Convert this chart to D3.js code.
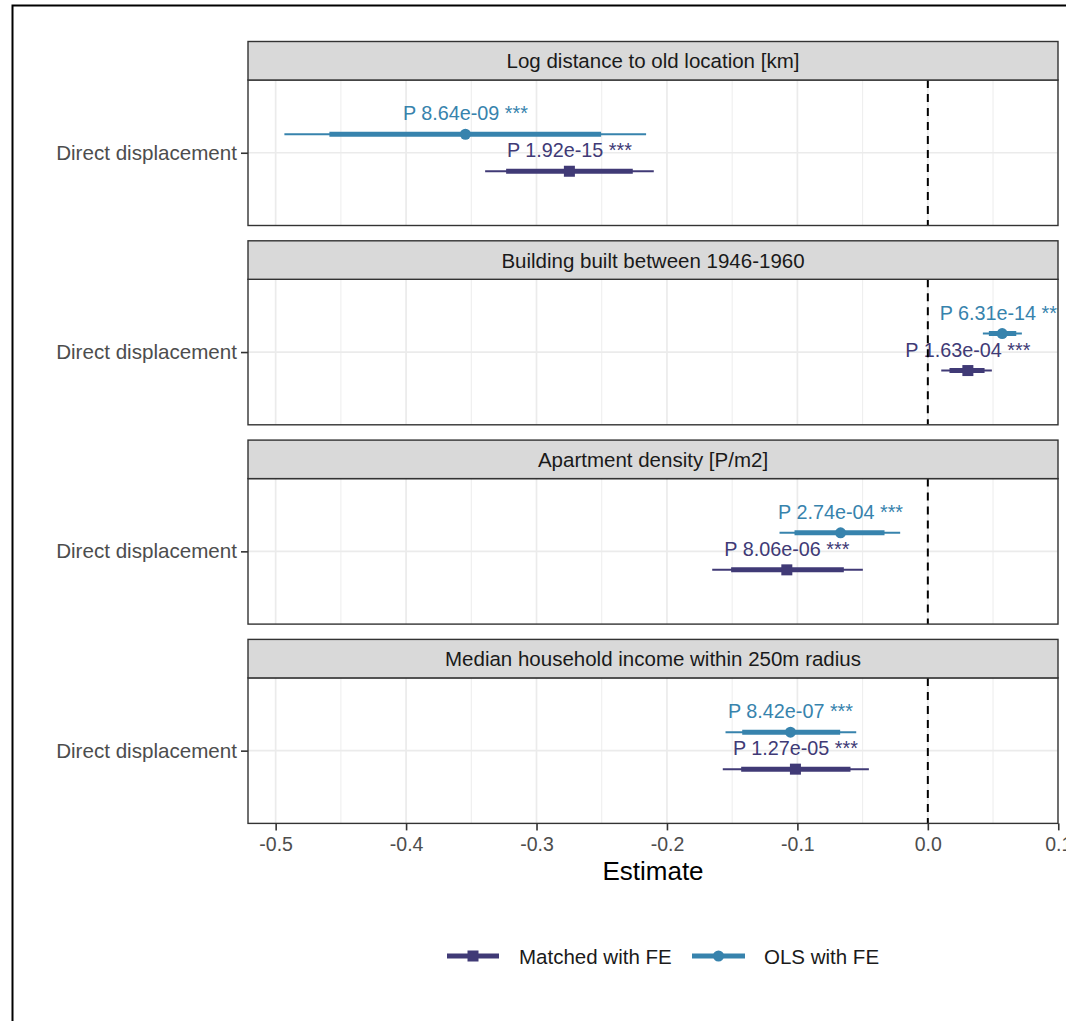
<!DOCTYPE html>
<html>
<head>
<meta charset="utf-8">
<script src="https://cdn.jsdelivr.net/npm/d3@7"></script>
<style>
  html, body { margin: 0; padding: 0; background: #fff; overflow: hidden; }
  text { font-family: "Liberation Sans", Arial, Helvetica, sans-serif; }
</style>
</head>
<body>
<div id="chart-area"></div>
<script>
// facets (one per variable) and models
const facets = [
  "Log distance to old location [km]",
  "Building built between 1946-1960",
  "Apartment density [P/m2]",
  "Median household income within 250m radius"
];
const models = ["Matched with FE", "OLS with FE"];
const yCategory = ["Direct displacement"];
const xTicks = [-0.5, -0.4, -0.3, -0.2, -0.1, 0.0, 0.1];
const xMinorTicks = [-0.45, -0.35, -0.25, -0.15, -0.05, 0.05];

// Matched with FE
const matchedEst  = [-0.2748, 0.0307, -0.1081, -0.1015];
const matchedLo95 = [-0.3394, 0.0103, -0.1653, -0.1572];
const matchedHi95 = [-0.2101, 0.0491, -0.0498, -0.0452];
const matchedLo90 = [-0.3233, 0.0166, -0.1508, -0.1431];
const matchedHi90 = [-0.2262, 0.0435, -0.0644, -0.0593];
const matchedP = ["P 1.92e-15 ***", "P 1.63e-04 ***", "P 8.06e-06 ***", "P 1.27e-05 ***"];

// OLS with FE
const olsEst  = [-0.3545, 0.0570, -0.0669, -0.1053];
const olsLo95 = [-0.4933, 0.0422, -0.1137, -0.1551];
const olsHi95 = [-0.2160, 0.0721, -0.0212, -0.0549];
const olsLo90 = [-0.4588, 0.0468, -0.1022, -0.1423];
const olsHi90 = [-0.2505, 0.0678, -0.0332, -0.0672];
const olsP = ["P 8.64e-09 ***", "P 6.31e-14 ***", "P 2.74e-04 ***", "P 8.42e-07 ***"];

const COLORS = { "Matched with FE": "#403a76", "OLS with FE": "#3783ad" };

const WIDTH = 1100, HEIGHT = 1040;
const PANEL = { LEFT: 248, RIGHT: 1058, TOP: 41.5, STRIP: 38.5, H: 145.5, STEP: 199.3 };

// structure data
const rows = [];
facets.forEach((f, i) => {
  rows.push({ facet: i, model: models[0], est: matchedEst[i], lo95: matchedLo95[i], hi95: matchedHi95[i],
              lo90: matchedLo90[i], hi90: matchedHi90[i], p: matchedP[i], dodge: 1 });
  rows.push({ facet: i, model: models[1], est: olsEst[i], lo95: olsLo95[i], hi95: olsHi95[i],
              lo90: olsLo90[i], hi90: olsHi90[i], p: olsP[i], dodge: -1 });
});

const svg = d3.select("#chart-area")
  .append("svg")
    .attr("width", WIDTH)
    .attr("height", HEIGHT);

// outer frame
svg.append("rect")
  .attr("x", 12.5).attr("y", 5.5)
  .attr("width", WIDTH).attr("height", HEIGHT)
  .attr("fill", "none")
  .attr("stroke", "#000")
  .attr("stroke-width", 2);

// scales
const x = d3.scaleLinear()
  .domain([-0.5212, 0.0998])
  .range([PANEL.LEFT, PANEL.RIGHT]);

const y = d3.scalePoint()
  .domain(yCategory)
  .range([0, PANEL.H])
  .padding(0.5);

const DODGE = 18.5;
// plain hyphen for negatives, like R
const fmt = d => d.toFixed(1);

facets.forEach((f, i) => {
  const top = PANEL.TOP + i * PANEL.STEP;
  const pTop = top + PANEL.STRIP;
  const g = svg.append("g").attr("transform", `translate(0, ${pTop})`);

  // strip
  svg.append("rect")
    .attr("x", PANEL.LEFT).attr("y", top)
    .attr("width", PANEL.RIGHT - PANEL.LEFT).attr("height", PANEL.STRIP)
    .attr("fill", "#d9d9d9")
    .attr("stroke", "#333")
    .attr("stroke-width", 1.4);
  svg.append("text")
    .attr("x", (PANEL.LEFT + PANEL.RIGHT) / 2)
    .attr("y", top + PANEL.STRIP / 2 + 7.5)
    .attr("text-anchor", "middle")
    .attr("font-size", "20.5px")
    .attr("fill", "#1a1a1a")
    .text(f);

  // clip so labels are cut at the panel edge
  svg.append("clipPath").attr("id", `clip${i}`)
    .append("rect")
      .attr("x", PANEL.LEFT).attr("y", 0)
      .attr("width", PANEL.RIGHT - PANEL.LEFT).attr("height", PANEL.H);
  const inner = g.append("g").attr("clip-path", `url(#clip${i})`);

  // grid
  inner.selectAll(".minor").data(xMinorTicks).enter().append("line")
    .attr("x1", d => x(d)).attr("x2", d => x(d))
    .attr("y1", 0).attr("y2", PANEL.H)
    .attr("stroke", "#ebebeb").attr("stroke-width", 0.9);
  inner.selectAll(".major").data(xTicks).enter().append("line")
    .attr("x1", d => x(d)).attr("x2", d => x(d))
    .attr("y1", 0).attr("y2", PANEL.H)
    .attr("stroke", "#ebebeb").attr("stroke-width", 1.7);
  inner.selectAll(".hgrid").data(yCategory).enter().append("line")
    .attr("x1", PANEL.LEFT).attr("x2", PANEL.RIGHT)
    .attr("y1", d => y(d)).attr("y2", d => y(d))
    .attr("stroke", "#ebebeb").attr("stroke-width", 1.7);

  const data = rows.filter(r => r.facet === i);
  const yPos = d => y(yCategory[0]) + d.dodge * DODGE;

  // confidence intervals
  inner.selectAll(".ci95").data(data).enter().append("line")
    .attr("x1", d => x(d.lo95)).attr("x2", d => x(d.hi95))
    .attr("y1", yPos).attr("y2", yPos)
    .attr("stroke", d => COLORS[d.model]).attr("stroke-width", 2);
  inner.selectAll(".ci90").data(data).enter().append("line")
    .attr("x1", d => x(d.lo90)).attr("x2", d => x(d.hi90))
    .attr("y1", yPos).attr("y2", yPos)
    .attr("stroke", d => COLORS[d.model]).attr("stroke-width", 5);

  // points: square for matched, circle for OLS
  data.forEach(d => {
    if (d.model === models[0]) {
      inner.append("rect")
        .attr("x", x(d.est) - 5.5).attr("y", yPos(d) - 5.5)
        .attr("width", 11).attr("height", 11)
        .attr("fill", COLORS[d.model]);
    } else {
      inner.append("circle")
        .attr("cx", x(d.est)).attr("cy", yPos(d))
        .attr("r", 5.5)
        .attr("fill", COLORS[d.model]);
    }
  });

  // p-value labels
  inner.selectAll(".plabel").data(data).enter().append("text")
    .attr("x", d => x(d.est))
    .attr("y", d => yPos(d) - 14)
    .attr("text-anchor", "middle")
    .attr("font-size", "19.8px")
    .attr("fill", d => COLORS[d.model])
    .text(d => d.p);

  // zero reference line
  inner.append("line")
    .attr("x1", x(0)).attr("x2", x(0))
    .attr("y1", 0).attr("y2", PANEL.H)
    .attr("stroke", "#000").attr("stroke-width", 2)
    .attr("stroke-dasharray", "8,6");

  // panel border
  g.append("rect")
    .attr("x", PANEL.LEFT).attr("y", 0)
    .attr("width", PANEL.RIGHT - PANEL.LEFT).attr("height", PANEL.H)
    .attr("fill", "none").attr("stroke", "#333").attr("stroke-width", 1.4);

  // y axis
  const yAxis = g.append("g")
    .attr("transform", `translate(${PANEL.LEFT}, 0)`)
    .call(d3.axisLeft(y).tickSize(7).tickPadding(4));
  yAxis.select(".domain").remove();
  yAxis.selectAll("line").attr("stroke", "#333").attr("stroke-width", 1.6);
  yAxis.selectAll("text")
    .attr("font-size", "20.6px")
    .attr("fill", "#4d4d4d")
    .attr("font-family", null);

  // x axis on the last panel
  if (i === facets.length - 1) {
    const xAxis = g.append("g")
      .attr("transform", `translate(0, ${PANEL.H})`)
      .call(d3.axisBottom(x).tickValues(xTicks).tickFormat(fmt).tickSize(7).tickPadding(7));
    xAxis.select(".domain").remove();
    xAxis.selectAll("line").attr("stroke", "#333").attr("stroke-width", 1.6);
    xAxis.selectAll("text")
      .attr("font-size", "19.5px")
      .attr("fill", "#4d4d4d")
      .attr("font-family", null);

    g.append("text")
      .attr("x", (PANEL.LEFT + PANEL.RIGHT) / 2)
      .attr("y", PANEL.H + 57)
      .attr("text-anchor", "middle")
      .attr("font-size", "26px")
      .attr("fill", "#000")
      .text("Estimate");
  }
});

// legend
const LEGEND_Y = 956;
const legendItems = [
  { model: models[0], x1: 447, x2: 499, tx: 519 },
  { model: models[1], x1: 692, x2: 745, tx: 764 }
];
const lg = svg.append("g").attr("class", "legend");
legendItems.forEach(item => {
  lg.append("line")
    .attr("x1", item.x1).attr("x2", item.x2)
    .attr("y1", LEGEND_Y).attr("y2", LEGEND_Y)
    .attr("stroke", COLORS[item.model]).attr("stroke-width", 5);
  const cx = (item.x1 + item.x2) / 2;
  if (item.model === models[0]) {
    lg.append("rect")
      .attr("x", cx - 5.5).attr("y", LEGEND_Y - 5.5)
      .attr("width", 11).attr("height", 11)
      .attr("fill", COLORS[item.model]);
  } else {
    lg.append("circle")
      .attr("cx", cx).attr("cy", LEGEND_Y).attr("r", 5.5)
      .attr("fill", COLORS[item.model]);
  }
  lg.append("text")
    .attr("x", item.tx).attr("y", LEGEND_Y + 7.5)
    .attr("font-size", "20.5px")
    .attr("fill", "#1a1a1a")
    .text(item.model);
});
</script>
</body>
</html>
